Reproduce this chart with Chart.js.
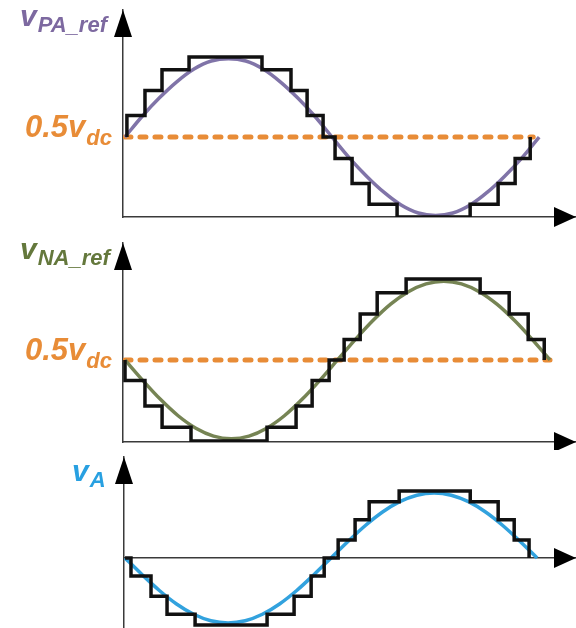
<!DOCTYPE html>
<html lang="en">
<head>
<meta charset="UTF-8">
<title>MMC arm reference waveforms</title>
<script src="https://cdn.jsdelivr.net/npm/chart.js"></script>
<style>
  html, body { margin: 0; padding: 0; background: #fff; }
  body { width: 576px; height: 628px; position: relative; overflow: hidden; }
  canvas { position: absolute; left: 0; }
  #chartPA { top: 0; }
  #chartNA { top: 230px; }
  #chartVA { top: 450px; }
</style>
</head>
<body>
<canvas id="chartPA" width="576" height="230"></canvas>
<canvas id="chartNA" width="576" height="220"></canvas>
<canvas id="chartVA" width="576" height="178"></canvas>
<script>
// phase angle (deg) of the sampled reference curves
const angles = [0, 15, 30, 45, 60, 75, 90, 105, 120, 135, 150, 165, 180,
                195, 210, 225, 240, 255, 270, 285, 300, 315, 330, 345, 360];

// upper arm reference (per unit of vdc)
const paRef = [0.50, 0.63, 0.745, 0.845, 0.925, 0.975, 0.99, 0.975, 0.925, 0.845, 0.745, 0.63, 0.50,
               0.37, 0.255, 0.155, 0.075, 0.025, 0.01, 0.025, 0.075, 0.155, 0.255, 0.37, 0.50];
// upper arm staircase: switching angles and levels
const paStepX = [1.7, 1.7, 17.4, 32.2, 55.7, 119.1, 144.3, 158.3, 172.2, 182.6, 197.4, 212.2, 236.5, 300, 324.3, 339.1, 352.2];
const paStepY = [0.5, 0.635, 0.79, 0.92, 1.0, 0.92, 0.79, 0.635, 0.5, 0.365, 0.21, 0.08, 0.0, 0.08, 0.21, 0.365, 0.5];

// lower arm reference
const naRef = [0.50, 0.376, 0.26, 0.16, 0.084, 0.036, 0.02, 0.036, 0.084, 0.16, 0.26, 0.376, 0.50,
               0.624, 0.74, 0.84, 0.916, 0.964, 0.98, 0.964, 0.916, 0.84, 0.74, 0.624, 0.50];
const naStepX = [0, 0, 16.9, 31.4, 55.9, 120.3, 144.9, 158.5, 172.9, 185.6, 199.2, 213.6, 238.1, 300.8, 325.4, 341.5, 355.1];
const naStepY = [0.5, 0.375, 0.22, 0.09, 0.006, 0.09, 0.22, 0.375, 0.5, 0.625, 0.78, 0.91, 0.994, 0.91, 0.78, 0.625, 0.5];

// output phase voltage (per unit of peak level)
const vaRef = [0, -0.25, -0.485, -0.686, -0.84, -0.937, -0.97, -0.937, -0.84, -0.686, -0.485, -0.25, 0,
               0.25, 0.485, 0.686, 0.84, 0.937, 0.97, 0.937, 0.84, 0.686, 0.485, 0.25, 0];
const vaStepX = [0, 5.2, 22.7, 36.7, 61.2, 124.1, 147.7, 162.6, 174, 186.2, 201, 213.3, 239.5, 301.6, 326, 340, 353];
const vaStepY = [0, -0.27, -0.57, -0.84, -1.0, -0.84, -0.57, -0.27, 0, 0.27, 0.57, 0.84, 1.0, 0.84, 0.57, 0.27, 0];

const dcLevel = 0.5;

const ORANGE = 'rgb(232,140,55)';
const FONT = '"Liberation Sans", Arial, sans-serif';

function pts(xs, ys) {
  return xs.map((x, i) => ({ x: x, y: ys[i] }));
}

// subscripted label, e.g. v with PA_ref
function drawSub(ctx, x, y, main, sub, color, mainSize, subSize, drop) {
  ctx.fillStyle = color;
  ctx.textAlign = 'left';
  ctx.textBaseline = 'alphabetic';
  ctx.font = 'italic bold ' + mainSize + 'px ' + FONT;
  ctx.fillText(main, x, y);
  const w = ctx.measureText(main).width;
  ctx.font = 'italic bold ' + subSize + 'px ' + FONT;
  ctx.fillText(sub, x + w + 1, y + drop);
}

const decor = {
  id: 'decor',
  afterDraw(chart, args, opts) {
    const { ctx, chartArea: a, scales } = chart;
    const ay = scales.y.getPixelForValue(opts.axisY);
    ctx.save();
    ctx.fillStyle = '#000';
    ctx.beginPath();
    ctx.moveTo(a.left, a.top);
    ctx.lineTo(a.left - 9, a.top + 27);
    ctx.lineTo(a.left + 9, a.top + 27);
    ctx.closePath();
    ctx.fill();
    ctx.beginPath();
    ctx.moveTo(a.right, ay);
    ctx.lineTo(a.right - 22, ay - 10);
    ctx.lineTo(a.right - 22, ay + 10);
    ctx.closePath();
    ctx.fill();
    drawSub(ctx, opts.labelX, opts.labelY, 'v', opts.sub, opts.color, 30, 22, 6);
    if (opts.dc) {
      const dy = scales.y.getPixelForValue(dcLevel);
      drawSub(ctx, 25, dy, '0.5v', 'dc', ORANGE, 31, 22, 8);
    }
    ctx.restore();
  }
};

function axisScales(xmin, xmax, ymin, ymax, xPos) {
  const common = {
    type: 'linear',
    grid: { display: false, drawTicks: false },
    ticks: { display: false },
    border: { display: true, color: '#3a3a3a', width: 1.5 }
  };
  return {
    x: Object.assign({}, common, { min: xmin, max: xmax, position: xPos }),
    y: Object.assign({}, common, { min: ymin, max: ymax })
  };
}

function makeChart(id, cfg) {
  const datasets = [
    { data: pts(cfg.stepX, cfg.stepY), stepped: 'before', borderColor: '#111', borderWidth: 3.5,
      borderJoinStyle: 'miter', pointRadius: 0 },
    { data: pts(angles, cfg.ref), borderColor: cfg.lineColor, borderWidth: 3.5,
      cubicInterpolationMode: 'monotone', pointRadius: 0 }
  ];
  if (cfg.dcEnd) {
    datasets.push({ data: [{ x: 0, y: dcLevel }, { x: cfg.dcEnd, y: dcLevel }], borderColor: ORANGE,
      borderWidth: 5, borderDash: [6, 9], borderCapStyle: 'round', pointRadius: 0 });
  }
  return new Chart(document.getElementById(id), {
    type: 'line',
    data: { datasets: datasets },
    options: {
      responsive: false,
      animation: false,
      layout: { padding: cfg.padding },
      scales: axisScales(cfg.xmin, cfg.xmax, cfg.ymin, cfg.ymax, cfg.xPos),
      plugins: {
        legend: { display: false },
        tooltip: { enabled: false },
        decor: { axisY: cfg.axisY, sub: cfg.sub, color: cfg.labelColor, labelX: cfg.labelX, labelY: cfg.labelY, dc: !!cfg.dcEnd }
      }
    },
    plugins: [decor]
  });
}

makeChart('chartPA', {
  stepX: paStepX, stepY: paStepY, ref: paRef,
  lineColor: 'rgb(128,116,168)', labelColor: 'rgb(125,105,160)', sub: 'PA_ref',
  labelX: 20, labelY: 26, dcEnd: 354.8,
  padding: { left: 123, right: 0, top: 10, bottom: 13 },
  xmin: -1.7, xmax: 392, ymin: 0, ymax: 1.294, axisY: 0, xPos: 'bottom'
});

makeChart('chartNA', {
  stepX: naStepX, stepY: naStepY, ref: naRef,
  lineColor: 'rgb(118,132,84)', labelColor: 'rgb(100,120,60)', sub: 'NA_ref',
  labelX: 20, labelY: 29, dcEnd: 360,
  padding: { left: 123, right: 0, top: 13, bottom: 8 },
  xmin: -1.7, xmax: 382, ymin: 0, ymax: 1.213, axisY: 0, xPos: 'bottom'
});

makeChart('chartVA', {
  stepX: vaStepX, stepY: vaStepY, ref: vaRef,
  lineColor: 'rgb(50,162,222)', labelColor: 'rgb(40,160,225)', sub: 'A',
  labelX: 72, labelY: 31,
  padding: { left: 124, right: 0, top: 7, bottom: 0 },
  xmin: -0.9, xmax: 394, ymin: -1.045, ymax: 1.507, axisY: 0, xPos: { y: 0 }
});
</script>
</body>
</html>
